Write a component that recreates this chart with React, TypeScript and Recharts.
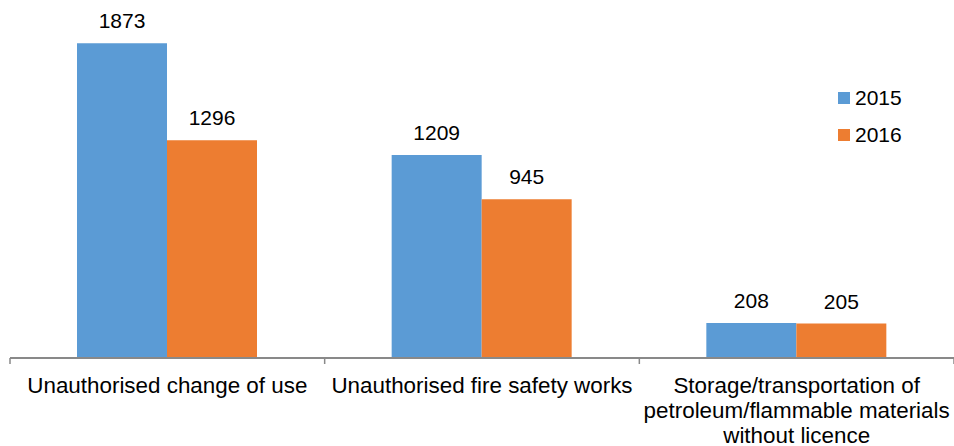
import React from "react";
import { BarChart, Bar, XAxis, YAxis, LabelList } from "recharts";

const categories = [
  "Unauthorised change of use",
  "Unauthorised fire safety works",
  "Storage/transportation of\npetroleum/flammable materials\nwithout licence",
];
const values2015 = [1873, 1209, 208];
const values2016 = [1296, 945, 205];
const seriesNames = ["2015", "2016"];
const colors = ["#5B9BD5", "#ED7D31"];

const data = categories.map((c, i) => ({
  name: c,
  y2015: values2015[i],
  y2016: values2016[i],
}));

const W = 954;
const H = 446;
const M = { top: 22, right: 0, left: 10, bottom: 0 };
const FONT = "'Liberation Sans', Arial, sans-serif";

const CatTick = (props: any) => {
  const { x, y, payload, index } = props;
  const half = (W - M.left - M.right) / categories.length / 2;
  const lines = String(payload.value).split("\n");
  return (
    <g>
      <line x1={x - half} x2={x - half} y1={y} y2={y + 6} stroke="#898989" strokeWidth={1.5} />
      {index === categories.length - 1 && (
        <line x1={x + half} x2={x + half} y1={y} y2={y + 6} stroke="#898989" strokeWidth={1.5} />
      )}
      <text x={x} y={y + 35} textAnchor="middle" fontFamily={FONT} fontSize={22.4} fill="#000">
        {lines.map((l, i) => (
          <tspan key={i} x={x} dy={i === 0 ? 0 : 25}>
            {l}
          </tspan>
        ))}
      </text>
    </g>
  );
};

const LegendBox = () => (
  <div style={{ position: "absolute", left: 838, top: 86, fontFamily: FONT, fontSize: 21 }}>
    {seriesNames.map((s, i) => (
      <div key={s} style={{ display: "flex", alignItems: "center", height: 24, marginBottom: 13 }}>
        <div style={{ width: 12, height: 12, background: colors[i], marginRight: 5 }} />
        <span style={{ lineHeight: "24px" }}>{s}</span>
      </div>
    ))}
  </div>
);

export default function App() {
  return (
    <div style={{ position: "absolute", left: 0, top: 0, width: W, height: H, background: "#fff" }}>
      <BarChart width={W} height={H} data={data} margin={M} barCategoryGap={67} barGap={0}>
        <XAxis
          dataKey="name"
          axisLine={{ stroke: "#898989", strokeWidth: 2 }}
          tickLine={false}
          tickSize={0}
          tickMargin={0}
          tick={<CatTick />}
          interval={0}
          height={88}
        />
        <YAxis hide domain={[0, 2000]} />
        <Bar dataKey="y2015" fill={colors[0]} isAnimationActive={false}>
          <LabelList dataKey="y2015" position="top" offset={15} fontFamily={FONT} fontSize={21} fill="#000" />
        </Bar>
        <Bar dataKey="y2016" fill={colors[1]} isAnimationActive={false}>
          <LabelList dataKey="y2016" position="top" offset={15} fontFamily={FONT} fontSize={21} fill="#000" />
        </Bar>
      </BarChart>
      <LegendBox />
    </div>
  );
}
